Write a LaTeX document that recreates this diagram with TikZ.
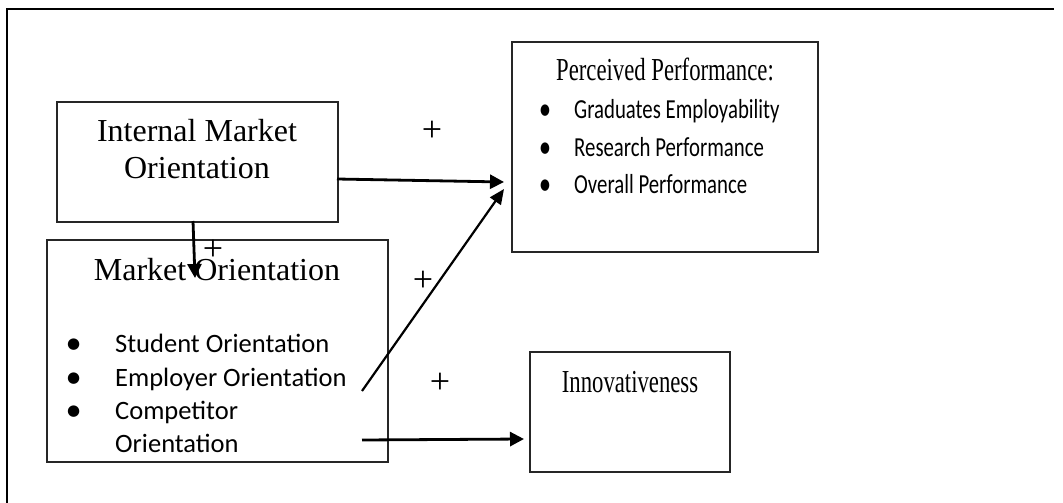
\documentclass[tikz,border=0pt]{standalone}
\usepackage{fontspec}
\usepackage{graphicx}
\usetikzlibrary{arrows.meta}
\newfontfamily\serifface{Liberation Serif}
\newfontfamily\bodyface{Carlito}
\newfontfamily\symbface{DejaVu Sans}
% list bullet: a round dot raised to mid x-height
\newcommand{\bul}{\raisebox{3.5pt}{\symbface\fontsize{15}{15}\selectfont ●}}
\newcommand{\narrowt}[1]{\scalebox{0.71}[1]{#1}}
\newcommand{\narrowb}[1]{\scalebox{0.756}[1]{#1}}
\tikzset{
  box/.style={draw=black!85, line width=1.2pt, rectangle, inner sep=0pt},
  title/.style={font=\serifface\fontsize{32}{37}\selectfont, inner sep=0pt, align=center},
  item/.style={font=\bodyface\fontsize{26.5}{30}\selectfont, inner sep=0pt, anchor=base west},
  itemr/.style={font=\bodyface\fontsize{27.5}{30}\selectfont, inner sep=0pt, anchor=base west},
  sign/.style={font=\serifface\fontsize{36}{36}\selectfont, inner sep=0pt},
  arr/.style={line width=2.8pt, -{Triangle[length=14pt,width=14pt]}},
  darr/.style={line width=2.2pt, -{Triangle[length=15pt,width=13pt]}},
}
\begin{document}
\begin{tikzpicture}[x=1pt,y=-1pt]
\useasboundingbox (0,0) rectangle (1063,503);

% frame edges (left and top)
\draw[line width=1.3pt] (7,503) -- (7,9) -- (1054,9);

% boxes
\node[box, minimum width=281pt, minimum height=120pt] (imo) at (197.5,162) {};
\node[box, minimum width=341pt, minimum height=222pt] (mo)  at (217.5,351) {};
\node[box, minimum width=306pt, minimum height=210pt] (pp)  at (665,147) {};
\node[box, minimum width=200pt, minimum height=120pt] (inn) at (630,412) {};

% box titles
\node[title, anchor=base] (imot) at (197,178) {Internal Market\\Orientation};
\node[title, anchor=base] (mot)  at (217,280) {Market Orientation};
\node[title, anchor=base] (ppt)  at (665,81)  {\narrowt{Perceived Performance:}};
\node[title, anchor=base] (innt) at (630,392) {\narrowt{Innovativeness}};

% market orientation dimensions
\node[item] (mo1) at (67,352) {\makebox[48pt][l]{\bul}Student Orientation};
\node[item] (mo2) at (67,386) {\makebox[48pt][l]{\bul}Employer Orientation};
\node[item] (mo3) at (67,419) {\makebox[48pt][l]{\bul}Competitor};
\node[item] (mo4) at (115,452) {Orientation};

% performance dimensions
\node[itemr] (pp1) at (540,118) {\narrowb{\makebox[45pt][l]{\bul}Graduates Employability}};
\node[itemr] (pp2) at (540,156) {\narrowb{\makebox[45pt][l]{\bul}Research Performance}};
\node[itemr] (pp3) at (540,193) {\narrowb{\makebox[45pt][l]{\bul}Overall Performance}};

% connector end points
\coordinate (s1) at (337,179);
\coordinate (e1) at (504,182);
\coordinate (s2) at (193,221);
\coordinate (e2) at (195,278);
\coordinate (s3) at (362,391);
\coordinate (e3) at (504,189);
\coordinate (s4) at (362,440);
\coordinate (e4) at (524,439);

\draw[arr]  (s1) -- (e1);
\draw[arr]  (s2) -- (e2);
\draw[darr] (s3) -- (e3);
\draw[arr]  (s4) -- (e4);

% signs of the effects
\node[sign] (p1) at (432,131) {+};
\node[sign] (p2) at (213,250) {+};
\node[sign] (p3) at (423,281) {+};
\node[sign] (p4) at (440,383) {+};
\end{tikzpicture}
\end{document}
